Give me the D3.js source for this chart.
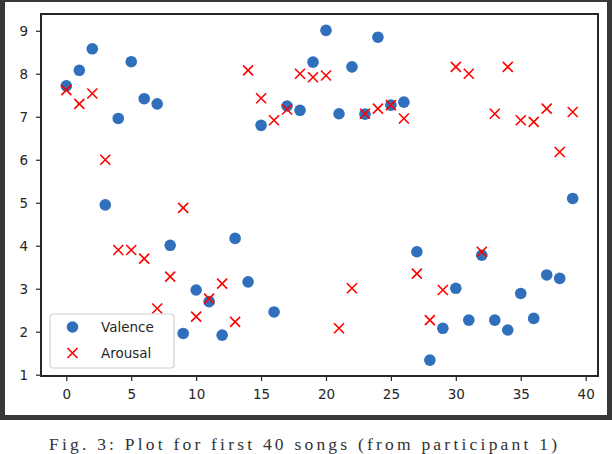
<!DOCTYPE html>
<html>
<head>
<meta charset="utf-8">
<script src="https://cdn.jsdelivr.net/npm/d3@7/dist/d3.min.js"></script>
<style>
  body { margin: 0; background: #fff; }
  text { font-family: "DejaVu Sans", sans-serif; }
</style>
</head>
<body>
<div id="chart-box"></div>
<script>
// song index 0..39
const songs = d3.range(40);

const valence = [7.72, 8.08, 8.58, 4.95, 6.96, 8.28, 7.42, 7.30, 4.01, 1.96,
                 2.97, 2.70, 1.92, 4.17, 3.16, 6.80, 2.46, 7.25, 7.15, 8.27,
                 9.01, 7.07, 8.16, 7.06, 8.85, 7.27, 7.34, 3.86, 1.34, 2.08,
                 3.01, 2.27, 3.78, 2.27, 2.04, 2.89, 2.31, 3.32, 3.24, 5.10];

const arousal = [7.62, 7.30, 7.54, 6.00, 3.90, 3.90, 3.70, 2.54, 3.28, 4.88,
                 2.35, 2.77, 3.12, 2.23, 8.08, 7.43, 6.92, 7.17, 8.00, 7.92,
                 7.96, 2.08, 3.01, 7.07, 7.19, 7.27, 6.96, 3.35, 2.27, 2.97,
                 8.16, 8.00, 3.86, 7.07, 8.16, 6.92, 6.88, 7.19, 6.18, 7.11];

const xTicks = [0, 5, 10, 15, 20, 25, 30, 35, 40];
const yTicks = [1, 2, 3, 4, 5, 6, 7, 8, 9];

const caption = "Fig. 3: Plot for first 40 songs (from participant 1)";

const W = 612, H = 454;
const margin = {left: 41, right: 14, top: 14, bottom: 78};
const width = W - margin.left - margin.right;
const height = H - margin.top - margin.bottom;

const blue = "#2f6fbc";

let svg = d3.select("#chart-box")
    .append("svg")
    .attr("width", W)
    .attr("height", H);

// dark frame round the figure
svg.append("rect")
    .attr("x", 2.5)
    .attr("y", -0.5)
    .attr("width", 607)
    .attr("height", 418)
    .attr("fill", "none")
    .attr("stroke", "#383838")
    .attr("stroke-width", 5);

let g = svg.append("g")
    .attr("transform", "translate(" + margin.left + "," + margin.top + ")");

let x = d3.scaleLinear()
    .domain([-1.95, 40.95])
    .range([0, width]);

let y = d3.scaleLinear()
    .domain([0.97, 9.39])
    .range([height, 0]);

let xAxis = g.append("g")
    .attr("transform", "translate(0," + height + ")")
    .call(d3.axisBottom(x).tickValues(xTicks).tickSize(5).tickPadding(8));

let yAxis = g.append("g")
    .call(d3.axisLeft(y).tickValues(yTicks).tickSize(5).tickPadding(8));

[xAxis, yAxis].forEach(a => {
    a.select(".domain").remove();
    a.selectAll(".tick line").attr("stroke", "#262626").attr("stroke-width", 1.2);
    a.selectAll(".tick text")
        .attr("fill", "#262626")
        .style("font-size", "13.5px")
        .style("font-family", "DejaVu Sans, sans-serif");
});

// spines
g.append("rect")
    .attr("width", width)
    .attr("height", height)
    .attr("fill", "none")
    .attr("stroke", "#262626")
    .attr("stroke-width", 2);

let crossPath = "M-5,-5L5,5M-5,5L5,-5";

g.selectAll(".valence")
    .data(songs)
    .enter()
    .append("circle")
    .attr("class", "valence")
    .attr("cx", d => x(d))
    .attr("cy", d => y(valence[d]))
    .attr("r", 5.8)
    .attr("fill", blue);

g.selectAll(".arousal")
    .data(songs)
    .enter()
    .append("path")
    .attr("class", "arousal")
    .attr("transform", d => "translate(" + x(d) + "," + y(arousal[d]) + ")")
    .attr("d", crossPath)
    .attr("stroke", "red")
    .attr("stroke-width", 1.6)
    .attr("fill", "none");

// legend
let legend = g.append("g")
    .attr("transform", "translate(9," + (height - 62) + ")");

legend.append("rect")
    .attr("width", 124)
    .attr("height", 54)
    .attr("rx", 3)
    .attr("fill", "white")
    .attr("fill-opacity", 0.8)
    .attr("stroke", "#d0d0d0")
    .attr("stroke-width", 1.2);

legend.append("circle")
    .attr("cx", 22.5)
    .attr("cy", 13)
    .attr("r", 5.8)
    .attr("fill", blue);

legend.append("path")
    .attr("transform", "translate(22.5,39)")
    .attr("d", crossPath)
    .attr("stroke", "red")
    .attr("stroke-width", 1.6)
    .attr("fill", "none");

legend.selectAll(".label")
    .data(["Valence", "Arousal"])
    .enter()
    .append("text")
    .attr("x", 51)
    .attr("y", (d, i) => 13 + i * 26)
    .attr("dy", "0.35em")
    .attr("fill", "#262626")
    .style("font-size", "13.5px")
    .text(d => d);

// caption under the frame
svg.append("text")
    .attr("x", 49)
    .attr("y", 449.5)
    .attr("textLength", 508)
    .attr("lengthAdjust", "spacing")
    .attr("fill", "#333")
    .style("font-family", "Liberation Serif, serif")
    .style("font-size", "17.5px")
    .text(caption);
</script>
</body>
</html>
